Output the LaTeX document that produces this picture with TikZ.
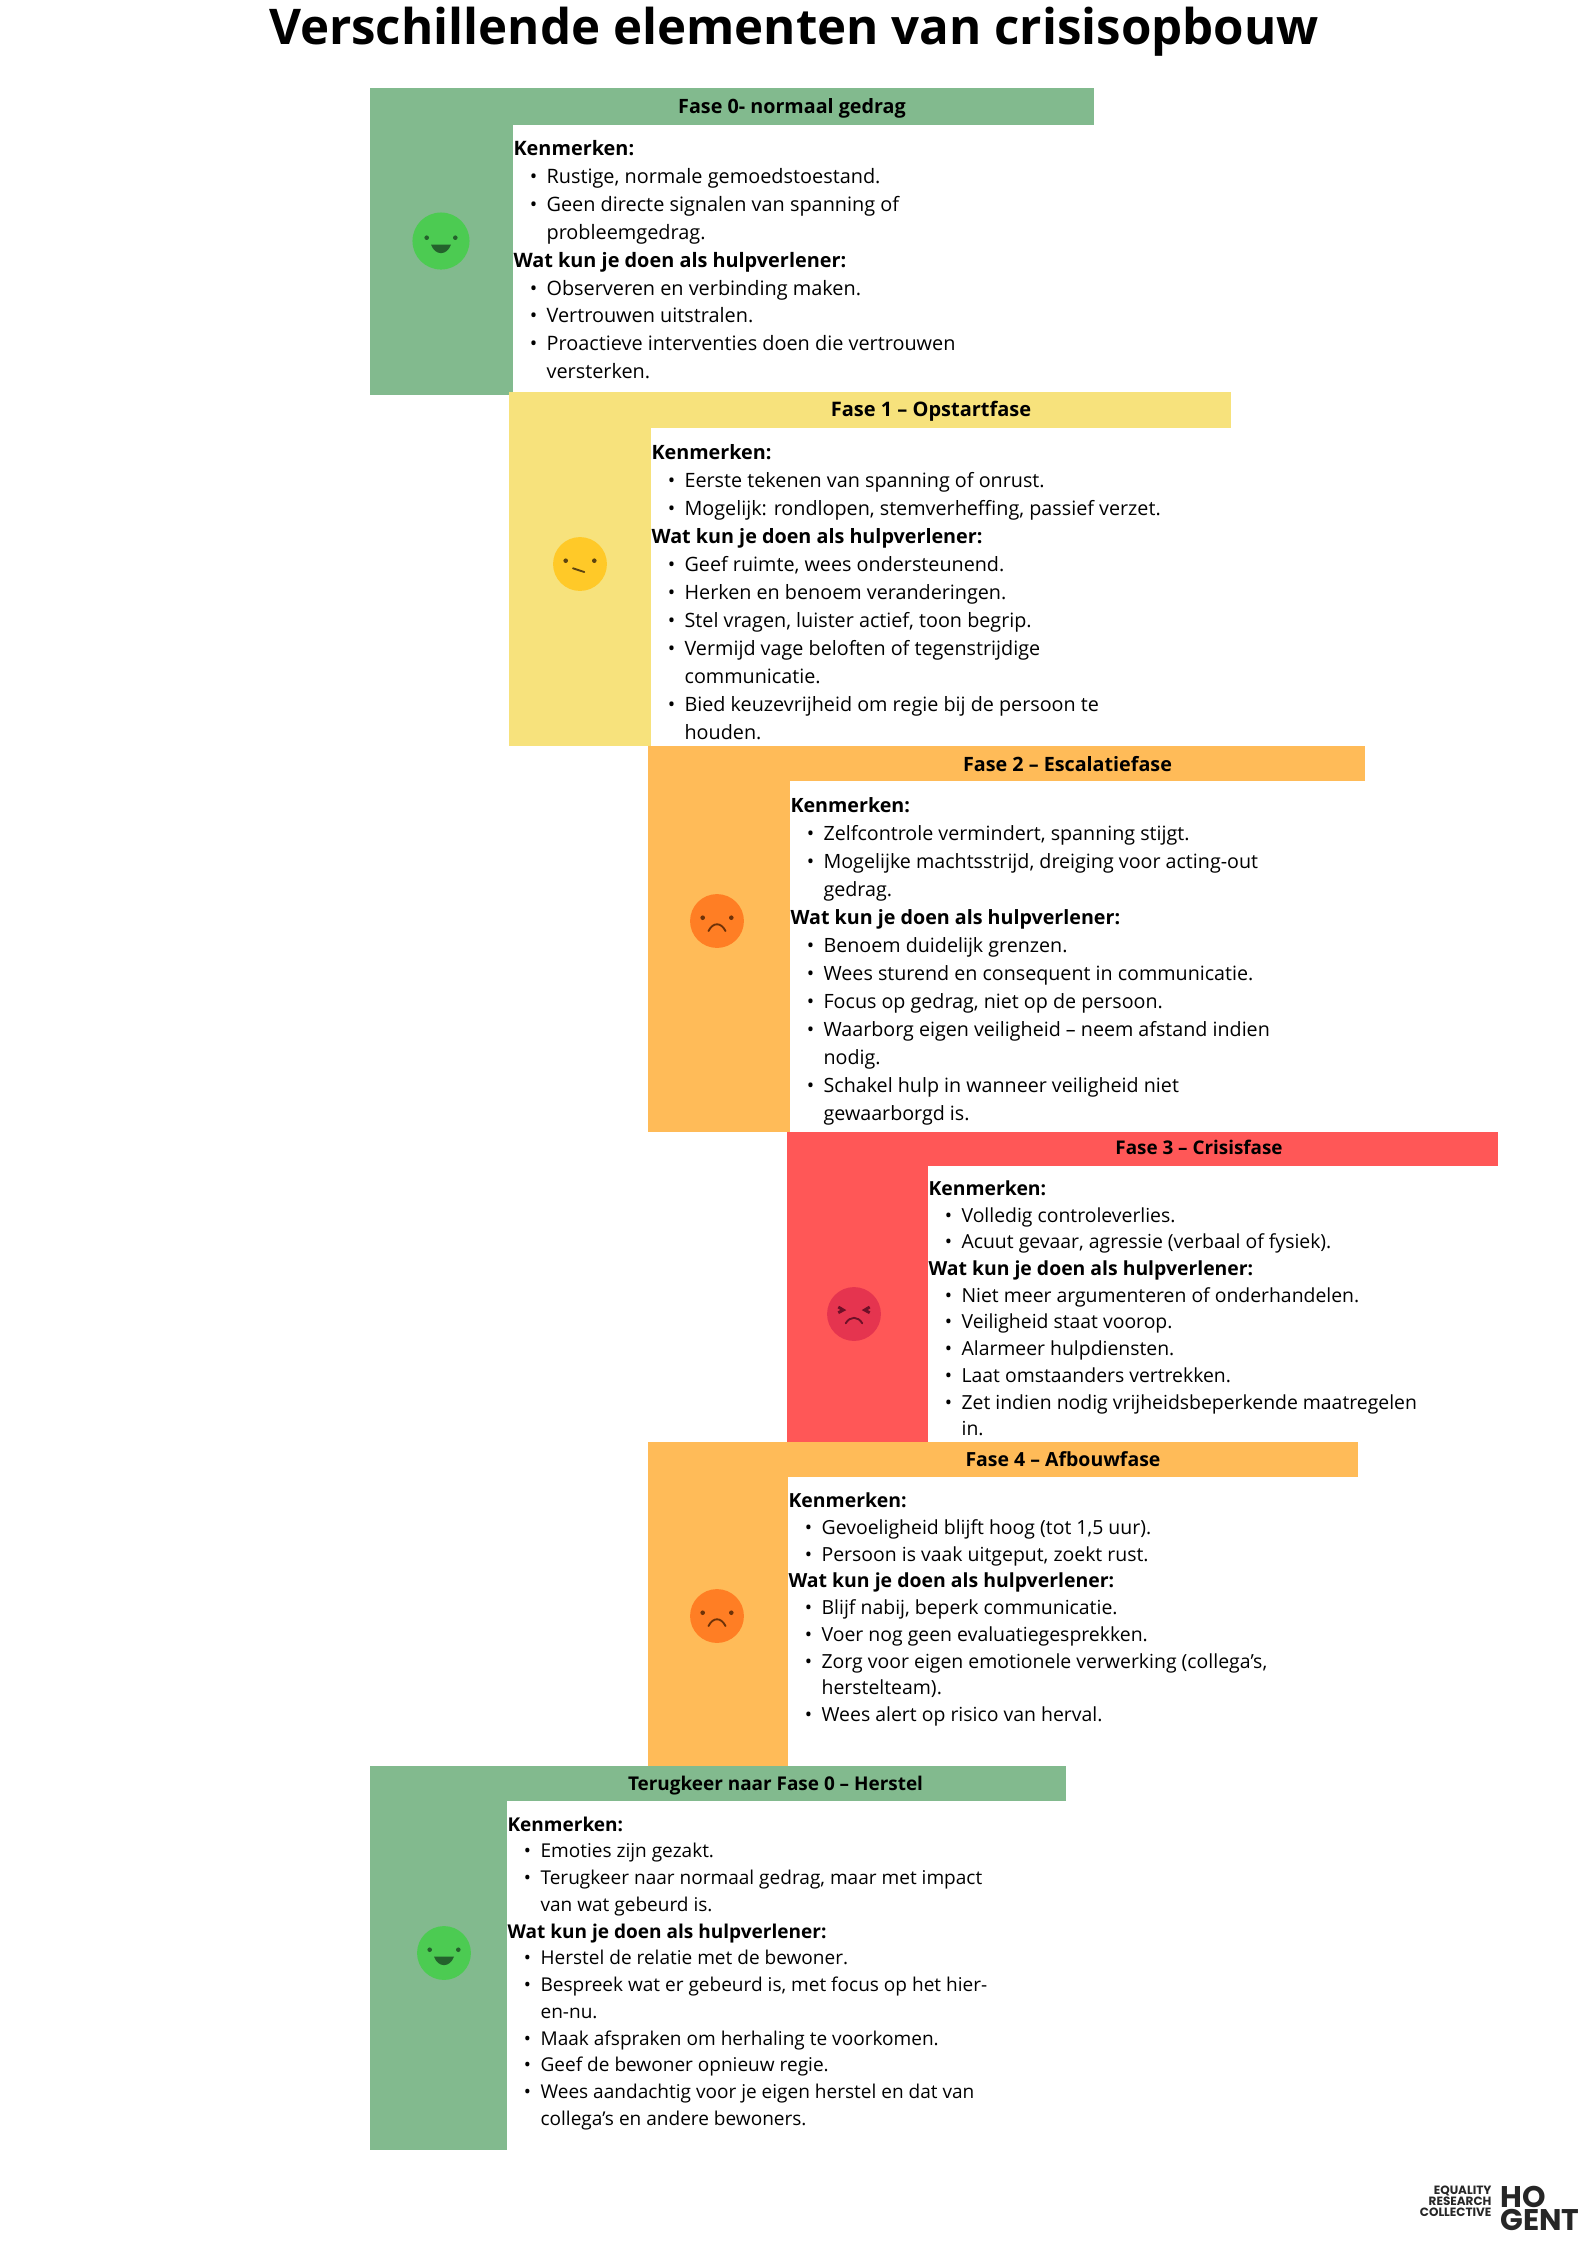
\documentclass[tikz,border=0pt]{standalone}
\usepackage{fontspec}
\setmainfont{Open Sans}
\newfontfamily\logofont{Poppins}
\usetikzlibrary{calc}
\definecolor{balkgroen}{HTML}{82BA8E}
\definecolor{balkgeel}{HTML}{F7E27C}
\definecolor{balkoranje}{HTML}{FFBB58}
\definecolor{balkrood}{HTML}{FF5757}
\definecolor{facegroen}{HTML}{4CCB52}
\definecolor{facegeel}{HTML}{FFC928}
\definecolor{faceoranje}{HTML}{FF7E24}
\definecolor{facerood}{HTML}{E5344F}
\definecolor{lijngroen}{HTML}{24622C}
\definecolor{lijngeel}{HTML}{5E4410}
\definecolor{lijnoranje}{HTML}{6E3208}
\definecolor{lijnrood}{HTML}{6E1028}
\tikzstyle{titelnode} = [inner sep=0, font=\fontsize{18.46}{22}\selectfont\bfseries]
\tikzstyle{kopnode} = [inner sep=0, font=\bfseries]
\tikzstyle{tekstnode} = [anchor=north west, inner sep=0, align=left]
\tikzstyle{facenode} = [circle, minimum size=20.2pt, inner sep=0]
\newcommand{\punt}{\makebox[12.4pt][l]{\hspace{6.1pt}\textbullet}}
\newcommand{\verder}{\hspace*{12.4pt}}
\newcommand{\ogen}[2]{\fill[#2] ($(#1)+(-14.3,-3.3)$) circle (2.3) ($(#1)+(14.3,-3.3)$) circle (2.3);}
\newcommand{\lachend}[2]{\ogen{#1}{#2}
  \fill[#2, shift={(#1)}] (-10,3.5) .. controls (-6,15) and (6,15) .. (10,3.5) -- cycle;}
\newcommand{\twijfel}[2]{\ogen{#1}{#2}
  \draw[#2, shift={(#1)}, line width=0.7pt, line cap=round] (-7,4.3) -- (4.3,8);}
\newcommand{\bedroefd}[2]{\ogen{#1}{#2}
  \draw[#2, shift={(#1)}, line width=0.7pt, line cap=round] (-8.5,10) .. controls (-4,1) and (4,1) .. (8.5,10);}
\newcommand{\boos}[2]{
  \draw[#2, shift={(#1)}, line width=1.1pt] (-15.7,-7) -- (-10.7,-4) -- (-15.7,-1.3) (15.7,-7) -- (10.7,-4) -- (15.7,-1.3);
  \draw[#2, shift={(#1)}, line width=0.7pt, line cap=round] (-8.3,9.3) .. controls (-4,2) and (4,2) .. (8.3,9.3);}
\begin{document}
\begin{tikzpicture}[x=0.375pt, y=-0.375pt]
\useasboundingbox (0,0) rectangle (1587,2244);

\node[titelnode] (titel) at (794,32) {Verschillende elementen van crisisopbouw};

\fill[balkgroen] (370,88) rectangle (1094,125);
\fill[balkgroen] (370,88) rectangle (513,395);
\node[kopnode, font=\fontsize{7.4}{9}\selectfont\bfseries] (kop_0) at (792,108.4) {Fase 0- normaal gedrag};
\node[facenode, minimum size=21.4pt, fill=facegroen] (face_0) at (441,241) {};
\lachend{face_0}{lijngroen}
\node[tekstnode, font=\fontsize{7.45}{10.46}\selectfont] (tekst_0) at (513,140) {\textbf{Kenmerken:}\\
\punt Rustige, normale gemoedstoestand.\\
\punt Geen directe signalen van spanning of\\
\verder probleemgedrag.\\
\textbf{Wat kun je doen als hulpverlener:}\\
\punt Observeren en verbinding maken.\\
\punt Vertrouwen uitstralen.\\
\punt Proactieve interventies doen die vertrouwen\\
\verder versterken.};

\fill[balkgeel] (509,392) rectangle (1231,428);
\fill[balkgeel] (509,392) rectangle (651,746);
\node[kopnode, font=\fontsize{7.5}{9}\selectfont\bfseries] (kop_1) at (931,411.4) {Fase 1 – Opstartfase};
\node[facenode, fill=facegeel] (face_1) at (580,564) {};
\twijfel{face_1}{lijngeel}
\node[tekstnode, font=\fontsize{7.41}{10.5}\selectfont] (tekst_1) at (651,443.5) {\textbf{Kenmerken:}\\
\punt Eerste tekenen van spanning of onrust.\\
\punt Mogelijk: rondlopen, stemverheffing, passief verzet.\\
\textbf{Wat kun je doen als hulpverlener:}\\
\punt Geef ruimte, wees ondersteunend.\\
\punt Herken en benoem veranderingen.\\
\punt Stel vragen, luister actief, toon begrip.\\
\punt Vermijd vage beloften of tegenstrijdige\\
\verder communicatie.\\
\punt Bied keuzevrijheid om regie bij de persoon te\\
\verder houden.};

\fill[balkoranje] (648,746) rectangle (1365,781);
\fill[balkoranje] (648,746) rectangle (790,1132);
\node[kopnode, font=\fontsize{7.4}{9}\selectfont\bfseries] (kop_2) at (1067.5,764.5) {Fase 2 – Escalatiefase};
\node[facenode, fill=faceoranje] (face_2) at (717,921) {};
\bedroefd{face_2}{lijnoranje}
\node[tekstnode, font=\fontsize{7.38}{10.5}\selectfont] (tekst_2) at (790,797) {\textbf{Kenmerken:}\\
\punt Zelfcontrole vermindert, spanning stijgt.\\
\punt Mogelijke machtsstrijd, dreiging voor acting-out\\
\verder gedrag.\\
\textbf{Wat kun je doen als hulpverlener:}\\
\punt Benoem duidelijk grenzen.\\
\punt Wees sturend en consequent in communicatie.\\
\punt Focus op gedrag, niet op de persoon.\\
\punt Waarborg eigen veiligheid – neem afstand indien\\
\verder nodig.\\
\punt Schakel hulp in wanneer veiligheid niet\\
\verder gewaarborgd is.};

\fill[balkrood] (787,1132) rectangle (1498,1166);
\fill[balkrood] (787,1132) rectangle (928,1442);
\node[kopnode, font=\fontsize{7.07}{9}\selectfont\bfseries] (kop_3) at (1199,1147.6) {Fase 3 – Crisisfase};
\node[facenode, fill=facerood] (face_3) at (854,1314) {};
\boos{face_3}{lijnrood}
\node[tekstnode, font=\fontsize{7.27}{10.02}\selectfont] (tekst_3) at (928,1180) {\textbf{Kenmerken:}\\
\punt Volledig controleverlies.\\
\punt Acuut gevaar, agressie (verbaal of fysiek).\\
\textbf{Wat kun je doen als hulpverlener:}\\
\punt Niet meer argumenteren of onderhandelen.\\
\punt Veiligheid staat voorop.\\
\punt Alarmeer hulpdiensten.\\
\punt Laat omstaanders vertrekken.\\
\punt Zet indien nodig vrijheidsbeperkende maatregelen\\
\verder in.};

\fill[balkoranje] (648,1442) rectangle (1358,1477);
\fill[balkoranje] (648,1442) rectangle (788,1766);
\node[kopnode, font=\fontsize{7.3}{9}\selectfont\bfseries] (kop_4) at (1063,1459) {Fase 4 – Afbouwfase};
\node[facenode, fill=faceoranje] (face_4) at (717,1616) {};
\bedroefd{face_4}{lijnoranje}
\node[tekstnode, font=\fontsize{7.29}{10.02}\selectfont] (tekst_4) at (788,1492.5) {\textbf{Kenmerken:}\\
\punt Gevoeligheid blijft hoog (tot 1,5 uur).\\
\punt Persoon is vaak uitgeput, zoekt rust.\\
\textbf{Wat kun je doen als hulpverlener:}\\
\punt Blijf nabij, beperk communicatie.\\
\punt Voer nog geen evaluatiegesprekken.\\
\punt Zorg voor eigen emotionele verwerking (collega’s,\\
\verder herstelteam).\\
\punt Wees alert op risico van herval.};

\fill[balkgroen] (370,1766) rectangle (1066,1801);
\fill[balkgroen] (370,1766) rectangle (507,2150);
\node[kopnode, font=\fontsize{7.1}{9}\selectfont\bfseries] (kop_5) at (775.5,1785.4) {Terugkeer naar Fase 0 – Herstel};
\node[facenode, fill=facegroen] (face_5) at (444,1953) {};
\lachend{face_5}{lijngroen}
\node[tekstnode, font=\fontsize{7.14}{10.03}\selectfont] (tekst_5) at (507,1816) {\textbf{Kenmerken:}\\
\punt Emoties zijn gezakt.\\
\punt Terugkeer naar normaal gedrag, maar met impact\\
\verder van wat gebeurd is.\\
\textbf{Wat kun je doen als hulpverlener:}\\
\punt Herstel de relatie met de bewoner.\\
\punt Bespreek wat er gebeurd is, met focus op het hier-\\
\verder en-nu.\\
\punt Maak afspraken om herhaling te voorkomen.\\
\punt Geef de bewoner opnieuw regie.\\
\punt Wees aandachtig voor je eigen herstel en dat van\\
\verder collega’s en andere bewoners.};

\node[anchor=east, inner sep=0, align=right, text=black!85, font=\logofont\bfseries\fontsize{4.5}{4.1}\selectfont] (logo_erc) at (1492,2201) {EQUALITY\\RESEARCH\\COLLECTIVE};
\node[anchor=west, inner sep=0, align=left, text=black!85, font=\logofont\bfseries\fontsize{11.2}{8.6}\selectfont] (logo_hogent) at (1500,2208) {HO\\GENT};
\end{tikzpicture}
\end{document}
